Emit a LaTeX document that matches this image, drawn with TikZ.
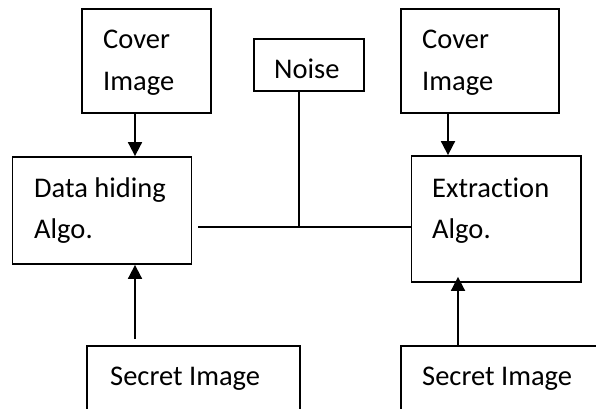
\documentclass[tikz,border=0pt]{standalone}
\usepackage{fontspec}
\setmainfont[Ligatures=NoCommon]{Carlito}
\usetikzlibrary{arrows.meta}
\begin{document}
\begin{tikzpicture}[x=1bp,y=-1bp,
  box/.style={draw,line width=1.8bp,rectangle,inner sep=0pt},
  lbl/.style={anchor=base west,inner sep=0pt,font=\fontsize{28.5bp}{34bp}\selectfont},
  arr/.style={line width=1.8bp,-{Triangle[width=14bp,length=14bp]}},
  ln/.style={line width=1.8bp}]
\useasboundingbox (0,0) rectangle (596,408);
\begin{scope}
\clip (0,0) rectangle (596,408);
\node[box,minimum width=129bp,minimum height=104bp] (cover1) at (146.5,61) {};
\node[box,minimum width=179bp,minimum height=107bp] (hide) at (102,210.5) {};
\node[box,minimum width=110bp,minimum height=52bp] (noise) at (309,65) {};
\node[box,minimum width=158bp,minimum height=104bp] (cover2) at (480,61) {};
\node[box,minimum width=169.5bp,minimum height=126bp] (extract) at (496.25,219) {};
\node[box,minimum width=213bp,minimum height=80bp] (secret1) at (193.5,386) {};
\node[box,minimum width=219bp,minimum height=80bp] (secret2) at (510.5,386) {};
\end{scope}
\node[lbl] (t1) at (103,48) {Cover};
\node[lbl] (t2) at (103,90) {Image};
\node[lbl] (t3) at (34,197) {Data hiding};
\node[lbl] (t4) at (34,238) {Algo.};
\node[lbl] (t5) at (274,78) {Noise};
\node[lbl] (t6) at (422,48) {Cover};
\node[lbl] (t7) at (422,90) {Image};
\node[lbl] (t8) at (432,197) {Extraction};
\node[lbl] (t9) at (432,238) {Algo.};
\node[lbl] (t10) at (110,385) {Secret Image};
\node[lbl] (t11) at (422,385) {Secret Image};
\coordinate (junc) at (299,227);
\draw[arr] (cover1.south -| 135,0) -- (hide.north -| 135,0);
\draw[arr] (cover2.south -| 448,0) -- (extract.north -| 448,0);
\draw[ln] (noise.south -| junc) -- (junc);
\draw[ln] (198,227) -- (extract.west |- junc);
\draw[arr] (secret1.north -| 135,0) ++(0,-6) -- (hide.south -| 135,0);
\draw[arr] (secret2.north -| 458,0) -- ([yshift=6bp]extract.south -| 458,0);
\end{tikzpicture}
\end{document}
